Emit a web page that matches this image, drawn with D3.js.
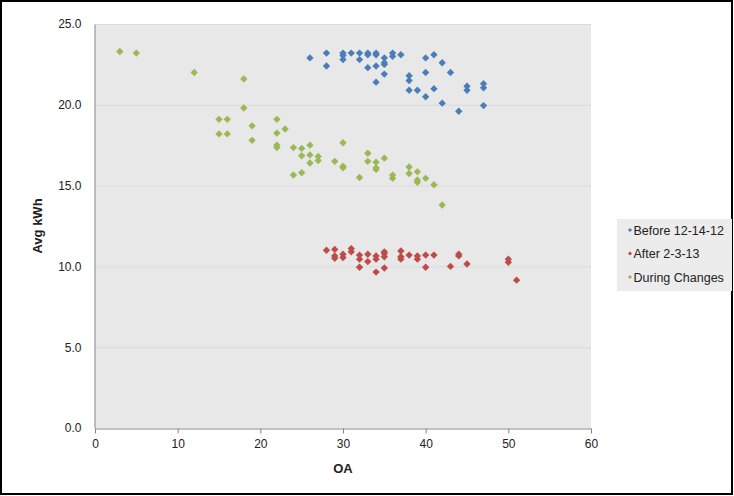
<!DOCTYPE html>
<html>
<head>
<meta charset="utf-8">
<script src="https://cdn.jsdelivr.net/npm/d3@7"></script>
<style>
  html, body { margin: 0; padding: 0; background: #fff; }
  svg { display: block; font-family: "Liberation Sans", Arial, sans-serif; }
</style>
</head>
<body>
<svg id="chart" width="734" height="496"></svg>
<script>
// Series: [OA, Avg kWh]
const beforeSeries = [
  [26,22.9],[28,23.2],[28,22.4],[30,23.2],[30,23.05],[30,22.8],[31,23.2],[32,23.2],[32,22.8],
  [33,23.2],[33,23.1],[33,22.3],[34,23.2],[34,23.1],[34,22.4],[34,21.4],[35,22.9],[35,22.6],
  [35,22.5],[35,21.9],[36,23.2],[36,23.0],[37,23.1],[38,21.8],[38,21.5],[38,20.9],[39,20.9],
  [40,22.9],[40,22.0],[40,20.5],[41,23.1],[41,21.0],[42,22.6],[42,20.1],[43,22.0],[44,19.6],
  [45,21.15],[45,20.9],[47,21.3],[47,21.05],[47,19.95]
];
const afterSeries = [
  [28,11.0],[29,11.05],[29,10.65],[29,10.5],[30,10.75],[30,10.55],[31,11.1],[31,10.9],
  [32,10.7],[32,10.45],[32,9.95],[33,10.75],[33,10.3],[34,10.65],[34,10.45],[34,9.65],
  [35,10.9],[35,10.8],[35,10.6],[35,9.9],[37,10.95],[37,10.6],[37,10.45],[38,10.7],
  [39,10.65],[39,10.45],[40,10.7],[40,9.95],[41,10.7],[43,10.0],[44,10.75],[44,10.65],
  [45,10.15],[50,10.45],[50,10.25],[51,9.15]
];
const duringSeries = [
  [3,23.3],[5,23.2],[12,22.0],[18,21.6],[18,19.8],[15,19.1],[16,19.1],[15,18.2],[16,18.2],
  [19,18.7],[19,17.8],[22,19.1],[22,18.25],[22,17.5],[22,17.35],[23,18.5],[24,17.35],
  [24,15.65],[25,17.3],[25,16.85],[25,15.8],[26,17.5],[26,16.9],[26,16.4],[27,16.8],
  [27,16.55],[29,16.5],[30,17.65],[30,16.2],[30,16.1],[32,15.5],[33,17.0],[33,16.5],
  [34,16.45],[34,16.1],[34,16.0],[35,16.7],[36,15.65],[36,15.45],[38,16.15],[38,15.75],
  [39,15.85],[39,15.35],[39,15.2],[40,15.45],[41,15.05],[42,13.8]
];
const seriesNames = ["Before 12-14-12", "After 2-3-13", "During Changes"];
const seriesColors = ["#4a7ebb", "#be4b48", "#98b954"];
const xTicks = [0, 10, 20, 30, 40, 50, 60];
const yTicks = [0, 5, 10, 15, 20, 25];

const svg = d3.select("#chart");
const plot = { left: 95, top: 24, right: 591, bottom: 428 };

const x = d3.scaleLinear().domain([0, 60]).range([plot.left, plot.right]);
const y = d3.scaleLinear().domain([0, 25]).range([plot.bottom, plot.top]);

// outer frame
svg.append("rect")
  .attr("x", 1).attr("y", 1).attr("width", 731).attr("height", 493)
  .attr("fill", "#fff").attr("stroke", "#000").attr("stroke-width", 2);

// plot background
svg.append("rect")
  .attr("x", plot.left).attr("y", plot.top)
  .attr("width", plot.right - plot.left).attr("height", plot.bottom - plot.top)
  .attr("fill", "#e8e8e8");

// horizontal gridlines
svg.append("g").selectAll("line")
  .data(yTicks.filter(d => d > 0))
  .join("line")
  .attr("x1", plot.left).attr("x2", plot.right)
  .attr("y1", d => y(d) + 0.5).attr("y2", d => y(d) + 0.5)
  .attr("stroke", "#dadada").attr("stroke-width", 1);

// axes
const xAxis = svg.append("g")
  .attr("transform", `translate(0,${plot.bottom + 0.5})`)
  .call(d3.axisBottom(x).tickValues(xTicks).tickFormat(d3.format("d")).tickSizeInner(5).tickSizeOuter(0).tickPadding(6));
const yAxis = svg.append("g")
  .attr("transform", `translate(${plot.left - 0.5},0)`)
  .call(d3.axisLeft(y).tickValues(yTicks).tickFormat(d3.format(".1f")).tickSizeInner(0).tickSizeOuter(0).tickPadding(13));

[xAxis, yAxis].forEach(a => {
  a.selectAll(".domain").attr("stroke", "#868686");
  a.selectAll(".tick line").attr("stroke", "#868686");
  a.selectAll("text").attr("fill", "#222").style("font-size", "12px")
    .style("font-family", "'Liberation Sans', Arial, sans-serif");
});
yAxis.select(".domain").attr("stroke", "#aaaaaa").attr("stroke-width", 1.5);

// axis titles
svg.append("text")
  .attr("x", (plot.left + plot.right) / 2).attr("y", 473)
  .attr("text-anchor", "middle")
  .style("font-size", "13px").style("font-weight", "bold").attr("fill", "#222")
  .text("OA");
svg.append("text")
  .attr("transform", `translate(42,${(plot.top + plot.bottom) / 2}) rotate(-90)`)
  .attr("text-anchor", "middle")
  .style("font-size", "13px").style("font-weight", "bold").attr("fill", "#222")
  .text("Avg kWh");

// markers: diamonds (rotated squares)
const diamond = d3.symbol().type(d3.symbolSquare).size(27);
const allSeries = [beforeSeries, afterSeries, duringSeries];
allSeries.forEach((data, i) => {
  svg.append("g").selectAll("path")
    .data(data)
    .join("path")
    .attr("d", diamond)
    .attr("transform", d => `translate(${x(d[0])},${y(d[1])}) rotate(45)`)
    .attr("fill", seriesColors[i]);
});

// legend
const legend = svg.append("g").attr("transform", "translate(617,219)");
legend.append("rect")
  .attr("width", 115).attr("height", 72)
  .attr("fill", "#ececec");
const legendDiamond = d3.symbol().type(d3.symbolSquare).size(9);
seriesNames.forEach((name, i) => {
  const row = legend.append("g").attr("transform", `translate(0,${11 + i * 23.5})`);
  row.append("path").attr("d", legendDiamond)
    .attr("transform", "translate(13,0) rotate(45)")
    .attr("fill", seriesColors[i]);
  row.append("text").attr("x", 16.5).attr("y", 4.5)
    .style("font-size", "12.5px").attr("fill", "#222")
    .text(name);
});
</script>
</body>
</html>
